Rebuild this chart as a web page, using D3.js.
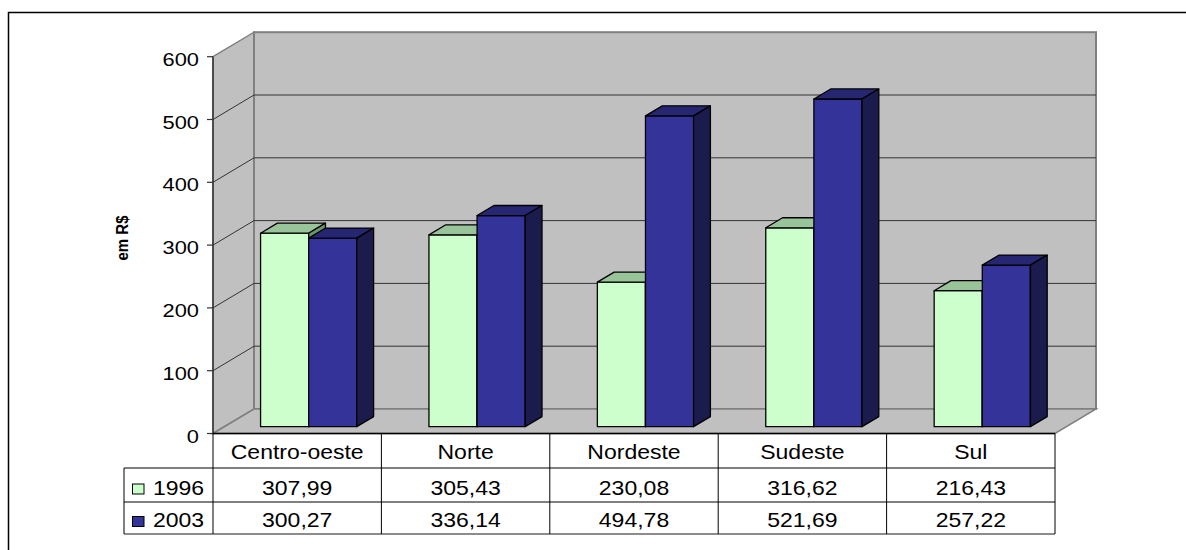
<!DOCTYPE html>
<html>
<head>
<meta charset="utf-8">
<script src="https://cdn.jsdelivr.net/npm/d3@7"></script>
<style>
  html, body { margin: 0; padding: 0; background: #fff; }
  svg { display: block; }
  text { font-family: "Liberation Sans", Arial, sans-serif; fill: #000; }
</style>
</head>
<body>
<svg id="chart" width="1186" height="550"></svg>
<script>
// Gasto médio por região (em R$)
const categories = ["Centro-oeste", "Norte", "Nordeste", "Sudeste", "Sul"];
const series = ["1996", "2003"];
const values1996 = [307.99, 305.43, 230.08, 316.62, 216.43];
const values2003 = [300.27, 336.14, 494.78, 521.69, 257.22];
const yTicks = [0, 100, 200, 300, 400, 500, 600];
const yTitle = "em R$";

const frontColors = ["#CCFFCC", "#333399"];
const topColors   = ["#99C399", "#262673"];
const sideColors  = ["#669966", "#1B1B4D"];

const svg = d3.select("#chart");
const wallFill = "#C0C0C0", wallEdge = "#808080", gridColor = "#333333";

// plot geometry (front plane) and the depth of the 3-D box
const plotLeft = 213, plotRight = 1055, plotBottom = 433.5, plotTop = 56.7;
const depthX = 41, depthY = -24.5;
const barStart = 0.28, barDepth = 0.41;   // bar slab position within the depth
const sx = 1.15;                            // horizontal text stretch

const x = d3.scaleBand().domain(categories).range([plotLeft, plotRight]).padding(0);
const y = d3.scaleLinear().domain([0, 600]).range([plotBottom, plotTop]);
const dec = d3.formatLocale({decimal: ",", thousands: ".", grouping: [3], currency: ["R$", ""]}).format(".2f");

// outer frame
svg.append("rect").attr("x", 8.5).attr("y", 12.5).attr("width", 1200).attr("height", 600)
  .attr("fill", "none").attr("stroke", "#000").attr("stroke-width", 1.5);

// walls and floor
svg.append("polygon")
  .attr("points", [[plotLeft, y(600)], [plotLeft + depthX, y(600) + depthY], [plotLeft + depthX, y(0) + depthY], [plotLeft, y(0)]].join(" "))
  .attr("fill", wallFill).attr("stroke", wallEdge).attr("stroke-width", 1.5);
svg.append("rect")
  .attr("x", plotLeft + depthX).attr("y", y(600) + depthY)
  .attr("width", plotRight - plotLeft).attr("height", y(0) - y(600))
  .attr("fill", wallFill).attr("stroke", wallEdge).attr("stroke-width", 2);
svg.append("polygon")
  .attr("points", [[plotLeft, y(0)], [plotLeft + depthX, y(0) + depthY], [plotRight + depthX, y(0) + depthY], [plotRight, y(0)]].join(" "))
  .attr("fill", wallFill).attr("stroke", wallEdge).attr("stroke-width", 1.5);

// gridlines on side wall and back wall
const grid = svg.append("g").attr("stroke", gridColor).attr("stroke-width", 1).attr("fill", "none");
yTicks.filter(v => v > 0 && v < 600).forEach(v => {
  grid.append("path").attr("d", `M${plotLeft},${y(v)}L${plotLeft + depthX},${y(v) + depthY}H${plotRight + depthX}`);
});

// front vertical axis with ticks
svg.append("line").attr("x1", plotLeft).attr("x2", plotLeft).attr("y1", y(600)).attr("y2", y(0))
  .attr("stroke", "#333").attr("stroke-width", 1.5);
const axis = svg.append("g");
yTicks.forEach(v => {
  axis.append("line").attr("x1", plotLeft - 6).attr("x2", plotLeft).attr("y1", y(v)).attr("y2", y(v))
    .attr("stroke", "#333").attr("stroke-width", 1.2);
  axis.append("text").attr("transform", `translate(${plotLeft - 14},${y(v) + 9}) scale(${sx},1)`)
    .attr("text-anchor", "end").attr("font-size", 19).text(v);
});

// axis title
svg.append("text").attr("transform", `translate(128,238) rotate(-90) scale(1,${sx})`)
  .attr("text-anchor", "middle").attr("font-size", 15).attr("font-weight", "bold").text(yTitle);

// bars
const bw = x.bandwidth() / 3.5;
const offX = depthX * barStart, offY = depthY * barStart;
const bdx = depthX * barDepth, bdy = depthY * barDepth;
const data = [values1996, values2003];
const bars = svg.append("g").attr("stroke", "#000").attr("stroke-width", 1.3).attr("stroke-linejoin", "round");
categories.forEach((c, i) => {
  series.forEach((s, k) => {
    const v = data[k][i];
    const x0 = x(c) + 0.75 * bw + k * bw + offX;
    const x1 = x0 + bw;
    const yb = y(0) + offY, yt = y(v) + offY;
    bars.append("rect").attr("x", x0).attr("y", yt).attr("width", bw).attr("height", yb - yt)
      .attr("fill", frontColors[k]);
    bars.append("polygon").attr("points", [[x0, yt], [x1, yt], [x1 + bdx, yt + bdy], [x0 + bdx, yt + bdy]].join(" "))
      .attr("fill", topColors[k]);
    bars.append("polygon").attr("points", [[x1, yt], [x1 + bdx, yt + bdy], [x1 + bdx, yb + bdy], [x1, yb]].join(" "))
      .attr("fill", sideColors[k]);
  });
});

// data table below the plot
const rowH = [plotBottom, 468, 502, 534];
const legendLeft = 124;
const table = svg.append("g").attr("stroke", "#000").attr("stroke-width", 1).attr("fill", "none");
table.append("line").attr("x1", plotLeft).attr("x2", plotRight).attr("y1", rowH[0]).attr("y2", rowH[0]).attr("stroke-width", 1.5);
table.append("line").attr("x1", legendLeft).attr("x2", plotRight).attr("y1", rowH[1]).attr("y2", rowH[1]);
table.append("line").attr("x1", legendLeft).attr("x2", plotRight).attr("y1", rowH[2]).attr("y2", rowH[2]);
table.append("line").attr("x1", legendLeft).attr("x2", plotRight).attr("y1", rowH[3]).attr("y2", rowH[3])
  .attr("stroke", "#666").attr("stroke-width", 1.5);
table.append("line").attr("x1", legendLeft).attr("x2", legendLeft).attr("y1", rowH[1]).attr("y2", rowH[3]);
categories.forEach(c => {
  table.append("line").attr("x1", x(c)).attr("x2", x(c)).attr("y1", rowH[0]).attr("y2", rowH[3]);
});
table.append("line").attr("x1", plotRight).attr("x2", plotRight).attr("y1", rowH[0]).attr("y2", rowH[3]);

const txt = svg.append("g").attr("font-size", 20);
const baselines = [459, 495, 527];
categories.forEach((c, i) => {
  const cx = x(c) + x.bandwidth() / 2;
  txt.append("text").attr("transform", `translate(${cx},${baselines[0]}) scale(${sx},1)`)
    .attr("text-anchor", "middle").text(c);
  data.forEach((vals, k) => {
    txt.append("text").attr("transform", `translate(${cx},${baselines[k + 1]}) scale(${sx},1)`)
      .attr("text-anchor", "middle").text(dec(vals[i]));
  });
});

// legend keys inside the table
const keyTop = [484, 516.5];
series.forEach((s, k) => {
  svg.append("rect").attr("x", 132.5).attr("y", keyTop[k]).attr("width", 11.5).attr("height", 10)
    .attr("fill", frontColors[k]).attr("stroke", "#000").attr("stroke-width", 1);
  txt.append("text").attr("transform", `translate(153,${baselines[k + 1]}) scale(${sx},1)`)
    .attr("text-anchor", "start").text(s);
});
</script>
</body>
</html>
